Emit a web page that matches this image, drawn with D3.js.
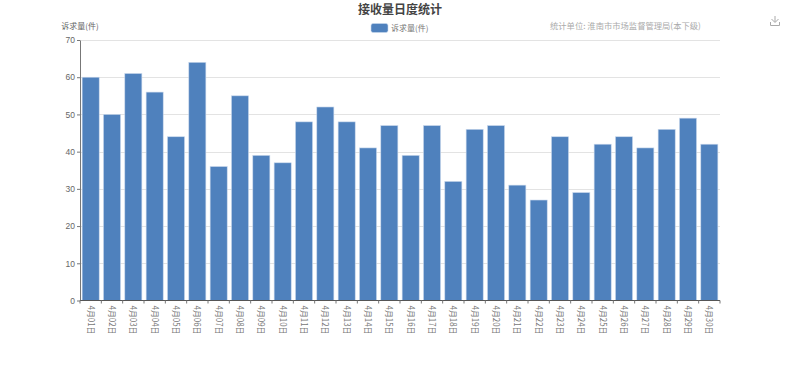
<!DOCTYPE html>
<html>
<head>
<meta charset="utf-8">
<script src="https://cdn.jsdelivr.net/npm/d3@7"></script>
<style>
html, body { margin: 0; padding: 0; background: #fff; }
svg { display: block; font-family: "Noto Sans CJK SC", sans-serif; }
</style>
</head>
<body>
<svg id="chart" width="800" height="367"></svg>
<script>
// days of april
var days = ['4月01日','4月02日','4月03日','4月04日','4月05日','4月06日','4月07日','4月08日','4月09日','4月10日',
    '4月11日','4月12日','4月13日','4月14日','4月15日','4月16日','4月17日','4月18日','4月19日','4月20日',
    '4月21日','4月22日','4月23日','4月24日','4月25日','4月26日','4月27日','4月28日','4月29日','4月30日'];
var counts = [60,50,61,56,44,64,36,55,39,37,48,52,48,41,47,39,47,32,46,47,31,27,44,29,42,44,41,46,49,42];
var yTicks = [0,10,20,30,40,50,60,70];
var seriesName = '诉求量(件)';
var titleText = '接收量日度统计';
var unitText = '统计单位:  淮南市市场监督管理局(本下级)';

var margin = {left: 80, right: 80, top: 40, bottom: 66.5};
var width = 800, height = 367;
var svg = d3.select('#chart');

var x = d3.scaleBand().domain(days).range([margin.left, width - margin.right]).paddingInner(0.2).paddingOuter(0.1);
var xTick = d3.scaleBand().domain(days).range([margin.left, width - margin.right]);
var y = d3.scaleLinear().domain([0, 70]).range([height - margin.bottom, margin.top]);

// grid lines
svg.append('g').selectAll('line').data(yTicks.slice(1)).enter().append('line')
    .attr('x1', margin.left).attr('x2', width - margin.right)
    .attr('y1', function (d) { return Math.round(y(d)) + 0.5; })
    .attr('y2', function (d) { return Math.round(y(d)) + 0.5; })
    .attr('stroke', '#e3e3e3');

// bars
svg.append('g').selectAll('rect').data(counts).enter().append('rect')
    .attr('x', function (d, i) { return x(days[i]); })
    .attr('y', function (d) { return y(d); })
    .attr('width', x.bandwidth())
    .attr('height', function (d) { return y(0) - y(d); })
    .attr('fill', '#4f81bd')
    .attr('stroke', '#c9d8ec')
    .attr('stroke-width', 0.6);

// y axis
var yAxis = svg.append('g').attr('transform', 'translate(' + margin.left + ',0)')
    .call(d3.axisLeft(y).tickValues(yTicks).tickSize(3).tickSizeOuter(0).tickPadding(2));
yAxis.selectAll('path, line').attr('stroke', '#777');
yAxis.selectAll('text').attr('fill', '#666').style('font-size', '8.5px');

// x axis, tick marks on the band edges
var xAxis = svg.append('g').attr('transform', 'translate(0,' + y(0) + ')');
xAxis.append('line').attr('x1', margin.left).attr('x2', width - margin.right).attr('stroke', '#555');
xAxis.selectAll('line.tick').data(days.concat(['end'])).enter().append('line')
    .attr('class', 'tick')
    .attr('x1', function (d, i) { return margin.left + i * xTick.step(); })
    .attr('x2', function (d, i) { return margin.left + i * xTick.step(); })
    .attr('y2', 3)
    .attr('stroke', '#777');
xAxis.selectAll('text').data(days).enter().append('text')
    .attr('transform', function (d) {
        return 'translate(' + (xTick(d) + xTick.bandwidth() / 2) + ',5) rotate(90)';
    })
    .attr('dy', '0.35em')
    .attr('fill', '#777')
    .attr('textLength', 29)
    .attr('lengthAdjust', 'spacingAndGlyphs')
    .style('font-size', '8.5px')
    .text(function (d) { return d; });

// title and labels
svg.append('text').attr('x', 400).attr('y', 14).attr('text-anchor', 'middle')
    .attr('fill', '#444').style('font-size', '12px').style('font-weight', 'bold').text(titleText);
svg.append('text').attr('x', 80).attr('y', 29).attr('text-anchor', 'middle')
    .attr('fill', '#666').style('font-size', '8px').text(seriesName);
svg.append('text').attr('x', 550).attr('y', 29)
    .attr('fill', '#aaa').style('font-size', '8.3px').text(unitText);

// legend
svg.append('rect').attr('x', 371).attr('y', 23.5).attr('width', 17).attr('height', 9).attr('rx', 2)
    .attr('fill', '#4f81bd').attr('stroke', '#c9d8ec').attr('stroke-width', 0.6);
svg.append('text').attr('x', 391).attr('y', 31)
    .attr('fill', '#777').style('font-size', '8px').text(seriesName);

// download icon
var icon = svg.append('g').attr('fill', 'none').attr('stroke', '#aaa').attr('stroke-width', 1);
icon.append('path').attr('d', 'M775 16V22M771.5 19L775 22.5L778.5 19M770.5 22V25.5H779.5V22');
</script>
</body>
</html>
